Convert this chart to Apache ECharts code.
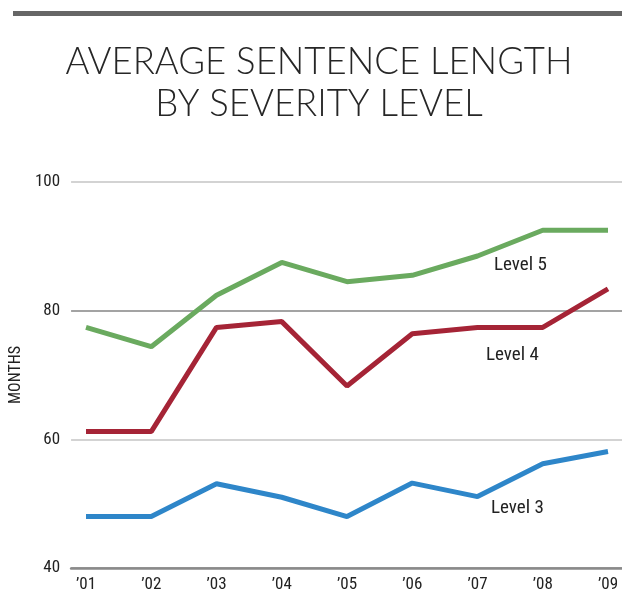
<!DOCTYPE html>
<html><head><meta charset="utf-8">
<script src="https://cdn.jsdelivr.net/npm/echarts@6/dist/echarts.min.js"></script>
<style>html,body{margin:0;padding:0;background:#fff}#c{width:622px;height:596px}</style>
</head><body><div id="c"></div>
<script>
const years = ["\u201901","\u201902","\u201903","\u201904","\u201905","\u201906","\u201907","\u201908","\u201909"];
const level5 = [77.4, 74.4, 82.4, 87.5, 84.5, 85.5, 88.5, 92.5, 92.5];
const level4 = [61.2, 61.2, 77.4, 78.3, 68.3, 76.4, 77.4, 77.4, 83.4];
const level3 = [48.0, 48.0, 53.1, 51.0, 48.0, 53.2, 51.1, 56.2, 58.1];
const yMin = 40, yMax = 100, yStep = 20;
const seriesNames = ["Level 5", "Level 4", "Level 3"];
const titleText = 'AVERAGE SENTENCE LENGTH\nBY SEVERITY LEVEL';

const narrow = '"Roboto Condensed", "Liberation Sans Narrow", sans-serif';
const chart = echarts.init(document.getElementById('c'), null, {renderer: 'canvas'});
const colors = ['#6aaa5f', '#a52436', '#2e86c9'];
const option = {
  animation: false,
  backgroundColor: '#fff',
  graphic: [
    {type: 'rect', shape: {x: 13, y: 11, width: 609, height: 5}, style: {fill: '#666'}},
    {type: 'text', x: 319, y: 41, style: {text: titleText, align: 'center', verticalAlign: 'top',
      font: '300 36.5px "Lato Light", Lato', lineHeight: 42, fill: '#262626'}},
    {type: 'text', left: 494, top: 256, style: {text: seriesNames[0], font: '19px ' + narrow, fill: '#222'}},
    {type: 'text', left: 486, top: 346, style: {text: seriesNames[1], font: '19px ' + narrow, fill: '#222'}},
    {type: 'text', left: 491, top: 499, style: {text: seriesNames[2], font: '19px ' + narrow, fill: '#222'}}
  ],
  grid: [
    {left: 63, right: 0, top: 182, bottom: 28},
    {left: 86, right: 14, top: 182, bottom: 28}
  ],
  xAxis: [
    {gridIndex: 0, type: 'value', min: 0, max: 1,
      axisLine: {show: true, lineStyle: {color: '#8a8a8a', width: 2.5}},
      axisTick: {show: false}, axisLabel: {show: false}, splitLine: {show: false}},
    {gridIndex: 1, type: 'category', data: years, boundaryGap: false,
      axisLine: {show: false}, axisTick: {show: false},
      axisLabel: {margin: 8, fontSize: 17, color: '#222', fontFamily: narrow}}
  ],
  yAxis: [
    {gridIndex: 0, type: 'value', min: yMin, max: yMax, interval: yStep,
      name: 'MONTHS', nameLocation: 'middle', nameGap: 44, nameRotate: 90,
      nameTextStyle: {fontSize: 16, color: '#222', fontFamily: narrow},
      axisLine: {show: false}, axisTick: {show: false},
      axisLabel: {margin: 11, fontSize: 17, color: '#222', fontFamily: narrow},
      splitLine: {lineStyle: {color: ['#8a8a8a', '#c4c4c4', '#858585', '#c4c4c4'], width: 1.5}}},
    {gridIndex: 1, type: 'value', min: yMin, max: yMax, interval: yStep, show: false, splitLine: {show: false}}
  ],
  series: [
    {name: seriesNames[0], type: 'line', data: level5, xAxisIndex: 1, yAxisIndex: 1, symbol: 'none',
      lineStyle: {color: colors[0], width: 5}},
    {name: seriesNames[1], type: 'line', data: level4, xAxisIndex: 1, yAxisIndex: 1, symbol: 'none',
      lineStyle: {color: colors[1], width: 5}},
    {name: seriesNames[2], type: 'line', data: level3, xAxisIndex: 1, yAxisIndex: 1, symbol: 'none',
      lineStyle: {color: colors[2], width: 5}}
  ]
};
chart.setOption(option);
</script></body></html>
